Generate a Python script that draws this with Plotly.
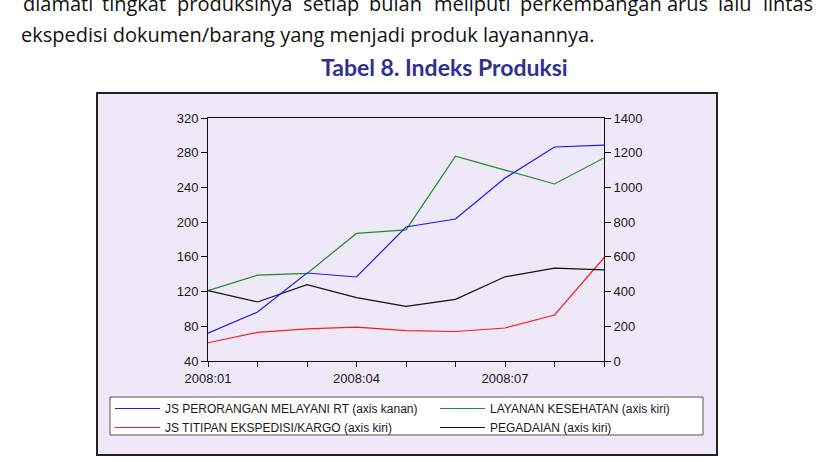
import plotly.graph_objects as go

# ---- data ----
months = ["2008:01", "2008:02", "2008:03", "2008:04", "2008:05",
          "2008:06", "2008:07", "2008:08", "2008:09"]
month_labels = ["2008:01", "", "", "2008:04", "", "", "2008:07", "", ""]
js_perorangan = [160, 282, 507, 484, 772, 818, 1054, 1233, 1244]   # right axis
layanan_kesehatan = [121, 139, 141, 187, 191, 276, 260, 244, 274]  # left axis
js_titipan = [61, 73, 77, 79, 75, 74, 78, 93, 159]                 # left axis
pegadaian = [121, 108, 128, 113, 103, 111, 137, 147, 145]          # left axis

left_ticks = [40, 80, 120, 160, 200, 240, 280, 320]
right_ticks = [0, 200, 400, 600, 800, 1000, 1200, 1400]

line1_words = ["diamati", "tingkat", "produksinya", "setiap", "bulan",
               "meliputi", "perkembangan", "arus", "lalu", "lintas"]
line1_x = [21, 100, 175, 301, 367, 432, 518, 665, 716, 761]
line2_text = "ekspedisi dokumen/barang yang menjadi produk layanannya."
title_text = "Tabel 8. Indeks Produksi"

# ---- geometry (pixels) ----
W, H = 824, 462
ML, MR = 20, 804          # paper area horizontally (wide, so legend fits 2 columns)
L, R, T, B = 208, 604, 118, 361   # plot area
GW, PH = MR - ML, B - T


def px(x):
    return (x - ML) / GW


def py(y):
    return (B - y) / PH


fig = go.Figure()
fig.add_trace(go.Scatter(x=months, y=js_perorangan, mode="lines", yaxis="y2",
                         name="JS PERORANGAN MELAYANI RT (axis kanan)",
                         line=dict(color="#1a1aee", width=1.2)))
fig.add_trace(go.Scatter(x=months, y=layanan_kesehatan, mode="lines",
                         name="LAYANAN KESEHATAN (axis kiri)",
                         line=dict(color="#228b22", width=1.2)))
fig.add_trace(go.Scatter(x=months, y=js_titipan, mode="lines",
                         name="JS TITIPAN EKSPEDISI/KARGO (axis kiri)",
                         line=dict(color="#ff1a1a", width=1.2)))
fig.add_trace(go.Scatter(x=months, y=pegadaian, mode="lines",
                         name="PEGADAIAN (axis kiri)",
                         line=dict(color="#111111", width=1.2)))

axis_font = dict(family="Liberation Sans, Arial", size=13, color="#1a1a1a")
leg_font = dict(family="Liberation Sans, Arial", size=12, color="#1a1a1a")

shapes = [
    dict(type="rect", xref="paper", yref="paper",
         x0=px(97), x1=px(717), y0=py(455), y1=py(93),
         fillcolor="#eee8f9", line=dict(color="#222222", width=2), layer="below"),
    dict(type="rect", xref="paper", yref="paper",
         x0=px(110), x1=px(703), y0=py(435), y1=py(397),
         fillcolor="#ffffff", line=dict(color="#555555", width=1), layer="above"),
]

annotations = []
for w, x in zip(line1_words, line1_x):
    annotations.append(dict(text=w, x=px(x), y=py(4), xref="paper", yref="paper",
                            xanchor="left", yanchor="middle", showarrow=False,
                            font=dict(family="Open Sans", size=20, color="#111111")))
annotations.append(dict(text=line2_text, x=px(19), y=py(35), xref="paper", yref="paper",
                        xanchor="left", yanchor="middle", showarrow=False,
                        font=dict(family="Open Sans", size=20, color="#111111")))
annotations.append(dict(text="<b>" + title_text + "</b>", x=px(444), y=py(67),
                        xref="paper", yref="paper", xanchor="center", yanchor="middle",
                        showarrow=False,
                        font=dict(family="Lato", size=23, color="#2e3192")))

fig.update_layout(
    width=W, height=H, autosize=False,
    margin=dict(l=ML, r=W - MR, t=T, b=H - B, pad=0, autoexpand=False),
    paper_bgcolor="#ffffff", plot_bgcolor="rgba(0,0,0,0)",
    showlegend=True,
    xaxis=dict(type="category", range=[0, len(months) - 1],
               domain=[(L - ML) / GW, (R - ML) / GW],
               tickvals=months, ticktext=month_labels,
               ticks="outside", ticklen=5, tickcolor="#111111",
               showline=True, linecolor="#111111", linewidth=1, mirror=True,
               showgrid=False, zeroline=False, tickfont=axis_font),
    yaxis=dict(range=[40, 320], tickvals=left_ticks, anchor="x",
               ticks="outside", ticklen=6, tickcolor="#111111",
               showline=True, linecolor="#111111", linewidth=1,
               showgrid=False, zeroline=False, tickfont=axis_font),
    yaxis2=dict(range=[0, 1400], tickvals=right_ticks, overlaying="y", side="right",
                anchor="x",
                ticks="outside", ticklen=6, tickcolor="#111111",
                showline=True, linecolor="#111111", linewidth=1,
                showgrid=False, zeroline=False, tickfont=axis_font),
    legend=dict(x=px(110), y=py(394), xanchor="left", yanchor="top",
                orientation="h", bgcolor="rgba(0,0,0,0)", borderwidth=0,
                font=leg_font, itemwidth=45, tracegroupgap=0,
                entrywidth=265, entrywidthmode="pixels", traceorder="normal"),
    shapes=shapes,
    annotations=annotations,
)

fig.write_html("out.html")
